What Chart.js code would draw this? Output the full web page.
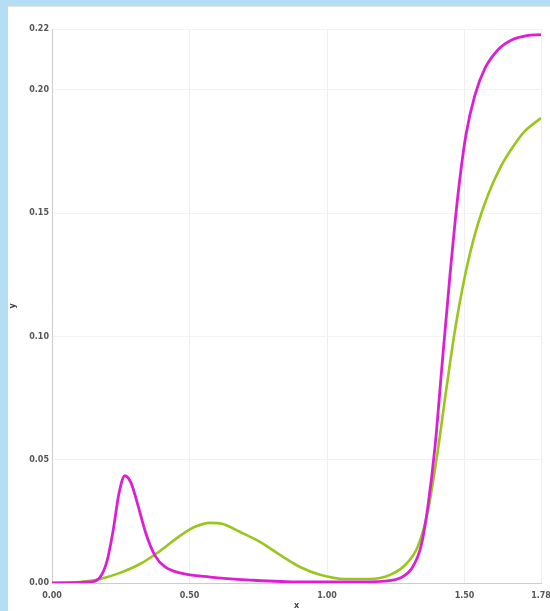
<!DOCTYPE html>
<html>
<head>
<meta charset="utf-8">
<script src="https://cdn.jsdelivr.net/npm/chart.js@4/dist/chart.umd.min.js"></script>
<style>
  html, body { margin: 0; padding: 0; }
  body { width: 550px; height: 611px; background: #b5def4; position: relative; overflow: hidden; }
  #panel { position: absolute; left: 8px; top: 6px; width: 542px; height: 605px; background: #fff; border-top: 1px solid #e4e4e4; box-sizing: border-box; }
  #spectrumChart { display: block; }
</style>
</head>
<body>
<div id="panel"><canvas id="spectrumChart" width="542" height="604"></canvas></div>
<script>
// magenta curve
const magentaX = [0, 0.138, 0.175, 0.200, 0.222, 0.244, 0.265, 0.287, 0.313, 0.342, 0.375, 0.411, 0.465, 0.575, 0.720, 0.902, 1.084, 1.211, 1.265, 1.309, 1.342, 1.367, 1.393, 1.418, 1.447, 1.476, 1.505, 1.538, 1.575, 1.622, 1.673, 1.727, 1.778];
const magentaY = [0, 0.0004, 0.0024, 0.0089, 0.0211, 0.0366, 0.0435, 0.0407, 0.0313, 0.0199, 0.0110, 0.0065, 0.0041, 0.0024, 0.0012, 0.0004, 0.0004, 0.0008, 0.0020, 0.0061, 0.0150, 0.0313, 0.0557, 0.0882, 0.1248, 0.1573, 0.1817, 0.1980, 0.2089, 0.2163, 0.2203, 0.2220, 0.2224];

// green curve
const greenX = [0, 0.102, 0.175, 0.247, 0.320, 0.393, 0.465, 0.520, 0.575, 0.618, 0.684, 0.756, 0.829, 0.902, 0.975, 1.065, 1.156, 1.229, 1.284, 1.331, 1.367, 1.400, 1.433, 1.465, 1.502, 1.542, 1.585, 1.629, 1.673, 1.716, 1.778];
const greenY = [0, 0.0004, 0.0016, 0.0041, 0.0077, 0.0130, 0.0191, 0.0228, 0.0244, 0.0240, 0.0207, 0.0167, 0.0114, 0.0065, 0.0033, 0.0016, 0.0016, 0.0033, 0.0073, 0.0150, 0.0293, 0.0516, 0.0780, 0.1024, 0.1248, 0.1431, 0.1573, 0.1683, 0.1764, 0.1829, 0.1886];

const xMin = 0, xMax = 1.778, xStep = 0.5;
const yMin = 0, yMax = 0.2247, yStep = 0.05;
const xTitle = 'x';
const yTitle = 'y';

const toPoints = (xs, ys) => xs.map((x, i) => ({ x, y: ys[i] }));

const tickFont = { family: 'DejaVu Sans', size: 8, weight: 'bold' };

const ctx = document.getElementById('spectrumChart').getContext('2d');
const spectrumChart = new Chart(ctx, {
    type: 'line',
    data: {
        datasets: [
            {
                label: 'magenta',
                data: toPoints(magentaX, magentaY),
                borderColor: '#dc1fd2',
                borderWidth: 2.8,
                pointRadius: 0,
                cubicInterpolationMode: 'monotone',
                fill: false
            },
            {
                label: 'green',
                data: toPoints(greenX, greenY),
                borderColor: '#98c61c',
                borderWidth: 2.6,
                pointRadius: 0,
                cubicInterpolationMode: 'monotone',
                fill: false
            }
        ]
    },
    options: {
        responsive: false,
        animation: false,
        layout: { padding: { top: 22, right: 9, left: 0, bottom: 0 } },
        scales: {
            x: {
                type: 'linear',
                min: xMin,
                max: xMax,
                ticks: {
                    stepSize: xStep,
                    color: '#555',
                    font: tickFont,
                    maxRotation: 0,
                    padding: 8,
                    callback: v => v.toFixed(2)
                },
                grid: { color: '#efefef', drawTicks: false },
                border: { color: '#cccccc' },
                title: { display: true, text: xTitle, color: '#444', font: { family: 'DejaVu Sans', size: 8, weight: 'bold' }, padding: 0 },
                afterFit: scale => {
                    scale.height = 28;
                    scale.paddingRight = 0;
                    scale.paddingLeft = 0;
                }
            },
            y: {
                type: 'linear',
                min: yMin,
                max: yMax,
                ticks: {
                    stepSize: yStep,
                    color: '#555',
                    font: tickFont,
                    padding: 3,
                    callback: v => v.toFixed(2)
                },
                grid: { color: '#f3f3f3', drawTicks: false },
                border: { color: '#cccccc' },
                title: { display: true, text: yTitle, color: '#444', font: { family: 'DejaVu Sans', size: 8, weight: 'bold' }, padding: 0 },
                afterFit: scale => {
                    scale.width = 44;
                    scale.paddingTop = 0;
                    scale.paddingBottom = 0;
                }
            }
        },
        plugins: {
            legend: { display: false },
            tooltip: { enabled: false }
        }
    }
});
</script>
</body>
</html>
